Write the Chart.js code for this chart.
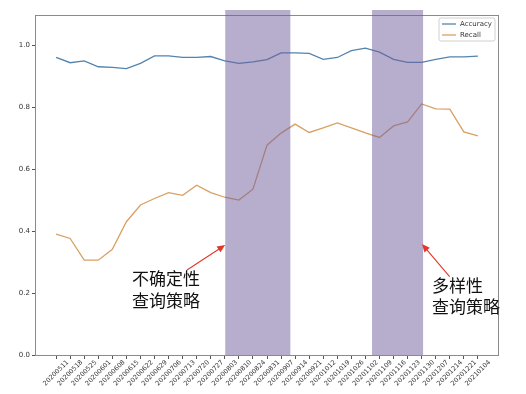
<!DOCTYPE html>
<html>
<head>
<meta charset="utf-8">
<script src="https://cdn.jsdelivr.net/npm/chart.js@4"></script>
<style>
  body { margin: 0; background: #fff; }
  canvas { display: block; }
</style>
</head>
<body>
<canvas id="chart" width="526" height="394"></canvas>
<script>
const dates = ["20200511", "20200518", "20200525", "20200601", "20200608", "20200615", "20200622",
  "20200629", "20200706", "20200713", "20200720", "20200727", "20200803", "20200810", "20200824",
  "20200831", "20200907", "20200914", "20200921", "20201012", "20201019", "20201026", "20201102",
  "20201109", "20201116", "20201123", "20201130", "20201207", "20201214", "20201221", "20210104"];

const accuracy = [0.960, 0.943, 0.949, 0.930, 0.928, 0.924, 0.941, 0.965, 0.965, 0.960, 0.960,
  0.963, 0.949, 0.941, 0.946, 0.953, 0.975, 0.975, 0.973, 0.954, 0.960, 0.982, 0.990, 0.977,
  0.954, 0.944, 0.944, 0.954, 0.962, 0.962, 0.964];

const recall = [0.390, 0.376, 0.306, 0.306, 0.341, 0.430, 0.484, 0.505, 0.524, 0.515, 0.548,
  0.524, 0.509, 0.500, 0.535, 0.677, 0.716, 0.745, 0.718, 0.733, 0.749, 0.733, 0.717, 0.702,
  0.739, 0.752, 0.810, 0.794, 0.793, 0.720, 0.707];

const yTicks = [0, 0.2, 0.4, 0.6, 0.8, 1.0];

// shaded periods, in x index units
const bands = [[12.03, 16.66], [22.47, 26.1]];

// notes: text lines + arrow (from -> tip), in data units
const notes = [
  { lines: ["不确定性", "查询策略"], x: 5.4, y: [0.247, 0.177], from: [9.31, 0.274], tip: [12.03, 0.355] },
  { lines: ["多样性", "查询策略"], x: 26.73, y: [0.223, 0.156], from: [27.99, 0.253], tip: [26.02, 0.358] },
];

const blue = "#5384ad";
const orange = "#d9a062";

const extras = {
  id: "extras",
  afterDatasetsDraw(chart) {
    const { ctx, chartArea: a, scales: { x } } = chart;
    ctx.save();
    ctx.strokeStyle = "#8a8a8a";
    ctx.lineWidth = 1;
    ctx.strokeRect(a.left + 0.5, a.top + 0.5, a.right - a.left - 1, a.bottom - a.top);
    ctx.fillStyle = "rgba(112, 94, 158, 0.5)";
    bands.forEach(([s, e]) => {
      const x0 = x.getPixelForValue(s);
      const x1 = x.getPixelForValue(e);
      ctx.fillRect(x0, a.top - 5, x1 - x0, a.bottom - a.top + 5);
    });
    ctx.restore();
  },
  afterDraw(chart) {
    const { ctx, chartArea: a, scales: { x, y } } = chart;
    ctx.save();

    // x labels, centred under ticks like matplotlib
    ctx.fillStyle = "#333";
    ctx.font = '6.5px "DejaVu Sans"';
    ctx.textAlign = "center";
    ctx.textBaseline = "middle";
    dates.forEach((d, i) => {
      ctx.save();
      ctx.translate(x.getPixelForValue(i), a.bottom + 18);
      ctx.rotate(-Math.PI / 4);
      ctx.fillText(d, 0, 0);
      ctx.restore();
    });

    // legend
    const lx = a.right - 60, ly = a.top + 3;
    ctx.fillStyle = "rgba(255,255,255,0.85)";
    ctx.strokeStyle = "#d0d0d0";
    ctx.beginPath();
    ctx.roundRect(lx, ly, 56, 23, 2);
    ctx.fill();
    ctx.stroke();
    ctx.font = '7px "DejaVu Sans"';
    ctx.textAlign = "left";
    chart.data.datasets.forEach((ds, i) => {
      const yy = ly + 6 + i * 11;
      ctx.strokeStyle = ds.borderColor;
      ctx.lineWidth = 1.3;
      ctx.beginPath();
      ctx.moveTo(lx + 3, yy);
      ctx.lineTo(lx + 17, yy);
      ctx.stroke();
      ctx.fillStyle = "#333";
      ctx.fillText(ds.label, lx + 21, yy);
    });

    // notes with red arrows
    notes.forEach((n) => {
      ctx.fillStyle = "#111";
      ctx.font = '17px "Noto Sans CJK SC"';
      ctx.textAlign = "left";
      ctx.textBaseline = "middle";
      n.lines.forEach((t, i) => ctx.fillText(t, x.getPixelForValue(n.x), y.getPixelForValue(n.y[i])));
      const fx = x.getPixelForValue(n.from[0]), fy = y.getPixelForValue(n.from[1]);
      const tx = x.getPixelForValue(n.tip[0]), ty = y.getPixelForValue(n.tip[1]);
      const ang = Math.atan2(ty - fy, tx - fx);
      ctx.strokeStyle = "#e0392b";
      ctx.fillStyle = "#e0392b";
      ctx.lineWidth = 1.1;
      ctx.beginPath();
      ctx.moveTo(fx, fy);
      ctx.lineTo(tx - 6 * Math.cos(ang), ty - 6 * Math.sin(ang));
      ctx.stroke();
      ctx.beginPath();
      ctx.moveTo(tx, ty);
      ctx.lineTo(tx - 8 * Math.cos(ang) + 3.5 * Math.sin(ang), ty - 8 * Math.sin(ang) - 3.5 * Math.cos(ang));
      ctx.lineTo(tx - 8 * Math.cos(ang) - 3.5 * Math.sin(ang), ty - 8 * Math.sin(ang) + 3.5 * Math.cos(ang));
      ctx.closePath();
      ctx.fill();
    });
    ctx.restore();
  },
};

new Chart(document.getElementById("chart"), {
  type: "line",
  data: {
    datasets: [
      {
        label: "Accuracy",
        data: accuracy.map((v, i) => ({ x: i, y: v })),
        borderColor: blue,
        borderWidth: 1.3,
        pointRadius: 0,
        tension: 0,
      },
      {
        label: "Recall",
        data: recall.map((v, i) => ({ x: i, y: v })),
        borderColor: orange,
        borderWidth: 1.3,
        pointRadius: 0,
        tension: 0,
      },
    ],
  },
  options: {
    responsive: false,
    animation: false,
    layout: { padding: { top: 15, right: 27, left: 0, bottom: 0 } },
    plugins: { legend: { display: false }, tooltip: { enabled: false } },
    scales: {
      x: {
        type: "linear",
        min: -1.5,
        max: 31.5,
        afterBuildTicks: (s) => { s.ticks = dates.map((d, i) => ({ value: i })); },
        afterFit: (s) => { s.height = 39; },
        ticks: { display: false },
        grid: { drawOnChartArea: false, drawTicks: true, tickLength: 4, color: "#555" },
        border: { display: false },
      },
      y: {
        min: 0,
        max: 1.097,
        afterBuildTicks: (s) => { s.ticks = yTicks.map((v) => ({ value: v })); },
        afterFit: (s) => { s.width = 35; },
        ticks: {
          callback: (v) => v.toFixed(1),
          color: "#333",
          padding: 2,
          font: { size: 7, family: "DejaVu Sans" },
        },
        grid: { drawOnChartArea: false, drawTicks: true, tickLength: 3, color: "#555" },
        border: { display: false },
      },
    },
  },
  plugins: [extras],
});
</script>
</body>
</html>
